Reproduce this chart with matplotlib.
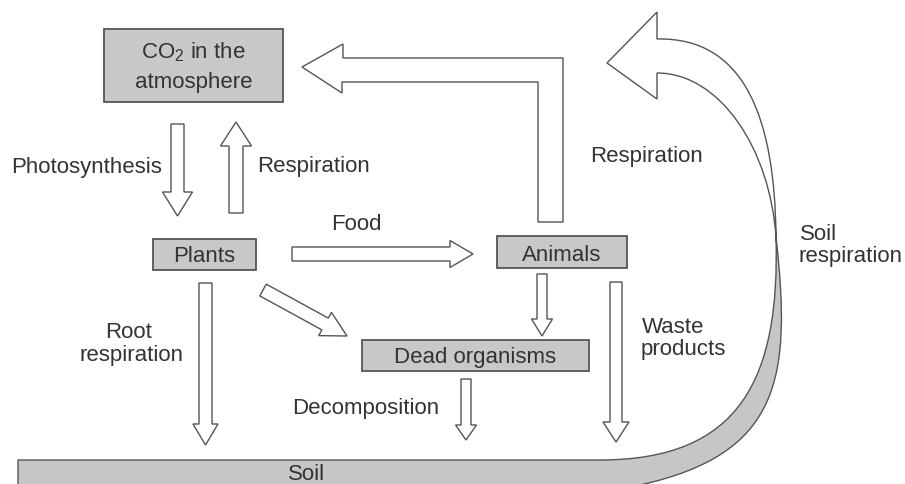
import numpy as np
import matplotlib
matplotlib.use("Agg")
import matplotlib.pyplot as plt
from matplotlib.patches import Rectangle, Polygon, PathPatch
from matplotlib.path import Path

plt.rcParams['font.family'] = ['Liberation Sans', 'DejaVu Sans']
plt.rcParams['mathtext.fontset'] = 'custom'
plt.rcParams['mathtext.rm'] = 'Liberation Sans'

# ---- content (labels) ----
node_labels = ["CO$_\\mathregular{2}$ in the", "atmosphere", "Plants", "Animals",
               "Dead organisms", "Soil"]
flow_labels = ["Photosynthesis", "Respiration", "Food", "Respiration",
               "Root", "respiration", "Decomposition", "Waste", "products",
               "Soil", "respiration"]

TXT = '#333333'
EDGE = '#555555'
BOXFILL = '#c8c8c8'
SOILFILL = '#c6c6c8'
FS = 16

fig = plt.figure(figsize=(9.05, 4.85), dpi=100)
ax = fig.add_axes([0, 0, 1, 1])
ax.set_xlim(0, 905)
ax.set_ylim(485, 0)
ax.axis('off')


def box(x0, y0, x1, y1):
    ax.add_patch(Rectangle((x0, y0), x1 - x0, y1 - y0, facecolor=BOXFILL,
                           edgecolor=EDGE, lw=1.3, zorder=2))


def block_arrow(tail, tip, shaft_w, head_w, head_len):
    t = np.array(tail, float)
    p = np.array(tip, float)
    d = p - t
    L = np.hypot(*d)
    u = d / L
    n = np.array([-u[1], u[0]])
    b = p - u * head_len
    pts = [t + n * shaft_w / 2, b + n * shaft_w / 2, b + n * head_w / 2, p,
           b - n * head_w / 2, b - n * shaft_w / 2, t - n * shaft_w / 2]
    ax.add_patch(Polygon(pts, closed=True, facecolor='white', edgecolor=EDGE,
                         lw=1.0, joinstyle='miter', zorder=3))


# ---- soil band with curved soil-respiration arrow ----
T = (776, 238)
verts = [(18, 500), (18, 461), (600, 461),
         (740, 461), (780, 380), T,
         (792, 380), (780, 455), (640, 486),
         (560, 500), (18, 500)]
codes = [Path.MOVETO, Path.LINETO, Path.LINETO,
         Path.CURVE4, Path.CURVE4, Path.CURVE4,
         Path.CURVE4, Path.CURVE4, Path.CURVE4,
         Path.LINETO, Path.CLOSEPOLY]
ax.add_patch(PathPatch(Path(verts, codes), facecolor=SOILFILL, edgecolor=EDGE,
                       lw=1.0, zorder=1))

verts = [T, (770, 150), (720, 74), (657, 74),
         (657, 100), (607, 64), (657, 13), (657, 40),
         (745, 38), (775, 120), T, T]
codes = [Path.MOVETO, Path.CURVE4, Path.CURVE4, Path.CURVE4,
         Path.LINETO, Path.LINETO, Path.LINETO, Path.LINETO,
         Path.CURVE4, Path.CURVE4, Path.CURVE4, Path.CLOSEPOLY]
ax.add_patch(PathPatch(Path(verts, codes), facecolor='white', edgecolor=EDGE,
                       lw=1.0, zorder=1))

# ---- boxes ----
box(104, 30, 283, 103)
box(153, 240, 256, 271)
box(497, 237, 627, 269)
box(362, 341, 589, 372)

# ---- arrows ----
block_arrow((177.5, 125), (177.5, 217), 13, 30, 24)    # photosynthesis
block_arrow((236, 214), (236, 123), 14, 31, 24)        # respiration (plants)
block_arrow((292, 255), (473, 255), 14, 27, 23)        # food
block_arrow((263, 291), (347, 337), 13.4, 26.5, 25)    # plants -> dead
block_arrow((542, 275), (542, 337), 10, 21, 17)        # animals -> dead
block_arrow((616, 283), (616, 443), 12, 26, 20)        # waste
block_arrow((205.5, 284), (205.5, 446), 13, 25, 21)    # root respiration
block_arrow((466, 380), (466, 441), 10, 21, 15)        # decomposition

# L-shaped respiration arrow from animals
ax.add_patch(Polygon([(563, 223), (563, 59), (343, 59), (343, 45), (302, 68),
                      (342, 94), (342, 83), (538, 83), (538, 223)],
                     closed=True, facecolor='white', edgecolor=EDGE, lw=1.0,
                     joinstyle='miter', zorder=3))

# ---- text ----
def txt(x, y, s, ha='left'):
    ax.text(x, y, s, ha=ha, va='baseline', fontsize=FS, color=TXT, zorder=5)

txt(193.5, 58, node_labels[0], ha='center')
txt(193.5, 88, node_labels[1], ha='center')
txt(204.5, 262, node_labels[2], ha='center')
txt(562, 261, node_labels[3], ha='center')
txt(475.5, 363, node_labels[4], ha='center')
txt(307, 480, node_labels[5], ha='center')

txt(11, 173, flow_labels[0])
txt(257, 172, flow_labels[1])
txt(331, 230, flow_labels[2])
txt(590, 162, flow_labels[3])
txt(129, 338, flow_labels[4], ha='center')
txt(131, 361, flow_labels[5], ha='center')
txt(292, 414, flow_labels[6])
txt(642, 333, flow_labels[7])
txt(641, 355, flow_labels[8])
txt(800, 240, flow_labels[9])
txt(798, 262, flow_labels[10])

fig.savefig("out.png", dpi=100, facecolor='white')
